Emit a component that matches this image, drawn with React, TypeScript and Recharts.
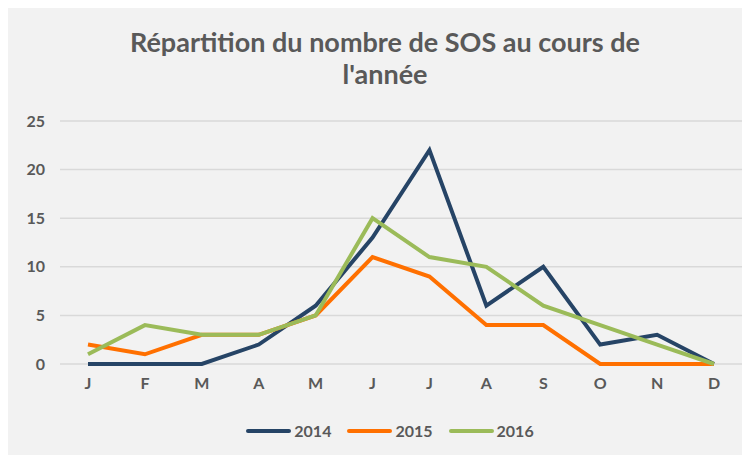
import { LineChart, Line, XAxis, YAxis, CartesianGrid } from 'recharts';

const months = ['J', 'F', 'M', 'A', 'M', 'J', 'J', 'A', 'S', 'O', 'N', 'D'];
const sos2014 = [0, 0, 0, 2, 6, 13, 22, 6, 10, 2, 3, 0];
const sos2015 = [2, 1, 3, 3, 5, 11, 9, 4, 4, 0, 0, 0];
const sos2016 = [1, 4, 3, 3, 5, 15, 11, 10, 6, 4, 2, 0];
const yTicks = [0, 5, 10, 15, 20, 25];

const series = [
  { key: '2014', color: '#264466' },
  { key: '2015', color: '#ff7000' },
  { key: '2016', color: '#9bbb59' },
];

const data = months.map((m, i) => ({
  month: m,
  '2014': sos2014[i],
  '2015': sos2015[i],
  '2016': sos2016[i],
}));

const FONT = 'Lato, "Open Sans", sans-serif';
const TEXT = '#595959';

function LegendRow() {
  return (
    <div
      style={{
        position: 'absolute',
        top: 413,
        left: 0,
        width: 742,
        display: 'flex',
        justifyContent: 'center',
        paddingLeft: 38,
        boxSizing: 'border-box',
        fontFamily: FONT,
      }}
    >
      {series.map(s => (
        <div key={s.key} style={{ display: 'flex', alignItems: 'center', marginRight: 16 }}>
          <div style={{ width: 45, height: 4, borderRadius: 2, background: s.color, marginRight: 3 }} />
          <span style={{ fontSize: 16, fontWeight: 700, color: TEXT }}>{s.key}</span>
        </div>
      ))}
    </div>
  );
}

export default function App() {
  return (
    <div style={{ position: 'relative', width: 742, height: 447, background: '#f2f2f2' }}>
      <div
        style={{
          position: 'absolute',
          top: 18,
          left: 0,
          width: 742,
          paddingLeft: 12,
          boxSizing: 'border-box',
          textAlign: 'center',
          fontFamily: FONT,
          fontWeight: 700,
          fontSize: 27,
          lineHeight: '32px',
          color: TEXT,
        }}
      >
        Répartition du nombre de SOS au cours de
        <br />
        l'année
      </div>
      <LineChart width={742} height={447} data={data} margin={{ top: 113, right: 8, bottom: 61, left: 0 }}>
        <CartesianGrid vertical={false} stroke="#d9d9d9" strokeWidth={1.5} />
        <XAxis
          dataKey="month"
          height={30}
          tickLine={false}
          axisLine={false}
          tickMargin={8}
          interval={0}
          padding={{ left: 28, right: 28 }}
          tick={{ fill: TEXT, fontSize: 16, fontWeight: 700, fontFamily: FONT }}
        />
        <YAxis
          width={52}
          domain={[0, 25]}
          ticks={yTicks}
          tickLine={false}
          axisLine={false}
          tickMargin={9}
          tick={{ fill: TEXT, fontSize: 16, fontWeight: 700, fontFamily: FONT }}
        />
        {series.map(s => (
          <Line
            key={s.key}
            dataKey={s.key}
            stroke={s.color}
            strokeWidth={4}
            dot={false}
            isAnimationActive={false}
          />
        ))}
      </LineChart>
      <LegendRow />
    </div>
  );
}
